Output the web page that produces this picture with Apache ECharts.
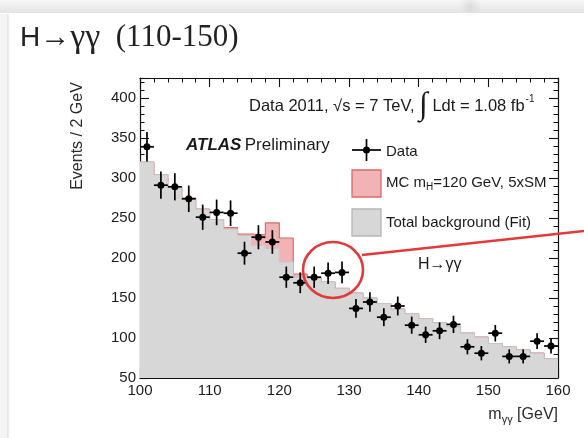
<!DOCTYPE html>
<html>
<head>
<meta charset="utf-8">
<script src="https://cdn.jsdelivr.net/npm/echarts@6/dist/echarts.min.js"></script>
<style>
html,body{margin:0;padding:0;background:#fff;}
#chart{width:584px;height:438px;}
</style>
</head>
<body>
<div id="chart"></div>
<script>
// Diphoton invariant mass, 2 GeV bins (bin centres in GeV)
const massCenters = [101,103,105,107,109,111,113,115,117,119,121,123,125,127,129,
                     131,133,135,137,139,141,143,145,147,149,151,153,155,157,159];
// Observed events per bin
const dataEvents = [339,291,289,274,251,257,256,206,226,220,176,169,176,181,182,
                    137,145,126,140,116,104,109,117,89,81,106,77,77,96,90];
// Fitted total background per bin
const backgroundFit = [320,304,289,275,261,248,236,228,216,212,195,176,175,170,162,
                       156,150,143,136,130,124,119,114,106,101,93,89,85,81,74];
// MC signal, m_H = 120 GeV, 5 x SM (stacked on the background)
const signalMC = [0,0,0,0,0,0,2,2,13,32,30,4,0,0,0,
                  0,0,0,0,0,0,0,0,0,0,0,0,0,0,0];
const binHalfWidth = 1;
const xTickStep = 10;
const yTickStep = 50;

const FONT = '"Liberation Sans", Arial, Helvetica, sans-serif';
const SERIF = '"Liberation Serif", "Times New Roman", serif';

// step outline points built from the bin edges
function stepPoints(values) {
  const pts = [];
  massCenters.forEach((c, i) => {
    pts.push([c - binHalfWidth, values[i]]);
    pts.push([c + binHalfWidth, values[i]]);
  });
  return pts;
}
const totalPrediction = backgroundFit.map((b, i) => b + signalMC[i]);
const dataWithErrors = massCenters.map((c, i) => [c, dataEvents[i], Math.sqrt(dataEvents[i])]);

const chart = echarts.init(document.getElementById('chart'), null, {renderer: 'canvas'});

function xAxisCfg(pos, showLabel) {
  return {
    type: 'value', position: pos, min: 100, max: 160, interval: xTickStep,
    axisLine: {show: true, onZero: false, lineStyle: {color: '#111', width: 1.2}},
    axisTick: {show: true, inside: true, length: 9, lineStyle: {color: '#111', width: 1.1}},
    minorTick: {show: true, splitNumber: 5, length: 4.5, lineStyle: {color: '#111', width: 1}},
    axisLabel: {show: showLabel, color: '#1a1a1a', fontSize: 15, fontFamily: FONT, margin: 5},
    splitLine: {show: false}, minorSplitLine: {show: false}
  };
}
function yAxisCfg(pos, showLabel) {
  return {
    type: 'value', position: pos, min: 50, max: 425, interval: yTickStep,
    axisLine: {show: true, onZero: false, lineStyle: {color: '#111', width: 1.2}},
    axisTick: {show: true, inside: true, length: 9, lineStyle: {color: '#111', width: 1.1}},
    minorTick: {show: true, splitNumber: 5, length: 4.5, lineStyle: {color: '#111', width: 1}},
    axisLabel: {show: showLabel, color: '#1a1a1a', fontSize: 15, fontFamily: FONT, margin: 4,
                showMaxLabel: false},
    splitLine: {show: false}, minorSplitLine: {show: false}
  };
}

const option = {
  animation: false,
  backgroundColor: '#ffffff',
  title: {
    left: 15, top: 16,
    text: '{h|H}{a|→}{g|γγ}{p|  (110-150)}',
    textStyle: {
      fontWeight: 'normal',
      rich: {
        h: {fontFamily: FONT, fontSize: 28, fontWeight: 'normal', color: '#222'},
        a: {fontFamily: SERIF, fontSize: 30, fontWeight: 'normal', color: '#222'},
        g: {fontFamily: SERIF, fontSize: 34, fontWeight: 'normal', color: '#222'},
        p: {fontFamily: SERIF, fontSize: 31, fontWeight: 'normal', color: '#222'}
      }
    }
  },
  grid: {left: 140, right: 26, top: 78, bottom: 60, containLabel: false},
  xAxis: [xAxisCfg('bottom', true), xAxisCfg('top', false)],
  yAxis: [yAxisCfg('left', true), yAxisCfg('right', false)],
  series: [
    {
      name: 'MC', type: 'line', data: stepPoints(totalPrediction),
      showSymbol: false, symbol: 'none',
      lineStyle: {color: '#d86b6b', width: 1.2},
      areaStyle: {color: '#f1b3b5', opacity: 1, origin: 'start'},
      z: 2
    },
    {
      name: 'Background', type: 'line', data: stepPoints(backgroundFit),
      showSymbol: false, symbol: 'none',
      lineStyle: {color: '#c8c8c8', width: 1},
      areaStyle: {color: '#d7d7d7', opacity: 1, origin: 'start'},
      z: 3
    },
    {
      name: 'Data', type: 'custom', data: dataWithErrors, z: 5,
      renderItem: function (params, api) {
        const x = api.value(0), y = api.value(1), e = api.value(2);
        const top = api.coord([x, y + e]);
        const bot = api.coord([x, y - e]);
        const l = api.coord([x - binHalfWidth, y]);
        const r = api.coord([x + binHalfWidth, y]);
        const c = api.coord([x, y]);
        const st = {stroke: '#000', lineWidth: 1.7};
        return {
          type: 'group',
          children: [
            {type: 'line', shape: {x1: top[0], y1: top[1], x2: bot[0], y2: bot[1]}, style: st},
            {type: 'line', shape: {x1: l[0], y1: l[1], x2: r[0], y2: r[1]}, style: st},
            {type: 'circle', shape: {cx: c[0], cy: c[1], r: 3.5}, style: {fill: '#000'}}
          ]
        };
      }
    }
  ],
  graphic: [
    // slide frame shading
    {type: 'rect', left: 0, top: 0, shape: {width: 584, height: 13}, z: 0,
     style: {fill: new echarts.graphic.LinearGradient(0, 0, 0, 1, [
       {offset: 0, color: '#f7f7f7'}, {offset: 1, color: '#e3e3e3'}])}},
    {type: 'ellipse', shape: {cx: 470, cy: 6, rx: 120, ry: 12}, z: 0,
     style: {fill: new echarts.graphic.RadialGradient(0.5, 0.5, 0.5, [
       {offset: 0, color: 'rgba(180,180,180,0.35)'}, {offset: 1, color: 'rgba(210,210,210,0)'}])}},
    {type: 'rect', shape: {x: 0, y: 13, width: 584, height: 1}, z: 1, style: {fill: '#ffffff'}},
    {type: 'rect', shape: {x: 0, y: 13, width: 8, height: 425}, z: 0, style: {fill: '#f4f4f4'}},
    {type: 'line', shape: {x1: 8, y1: 13, x2: 8, y2: 438}, z: 0, style: {stroke: '#dadada', lineWidth: 1}},

    // axis titles
    {type: 'text', x: 78, y: 136, rotation: Math.PI / 2, z: 10,
     style: {text: 'Events / 2 GeV', fontFamily: FONT, fontSize: 16, fill: '#2a2a2a',
             align: 'center', verticalAlign: 'middle'}},
    {type: 'text', x: 558, y: 415, z: 10,
     style: {text: '{m|m}{s|γγ}{m| [GeV]}', align: 'right', verticalAlign: 'middle',
             rich: {m: {fontFamily: FONT, fontSize: 16, fill: '#2a2a2a'},
                    s: {fontFamily: FONT, fontSize: 11, fill: '#2a2a2a', padding: [9, 0, 0, 0]}}}},

    // run information
    {type: 'text', x: 249, y: 106, z: 10,
     style: {text: '{t|Data 2011, √s = 7 TeV, }{i|∫}{t| Ldt = 1.08 fb}{u|-1}',
             verticalAlign: 'middle',
             rich: {t: {fontFamily: FONT, fontSize: 16.5, fill: '#1a1a1a'},
                    i: {fontFamily: SERIF, fontSize: 32, fill: '#1a1a1a'},
                    u: {fontFamily: FONT, fontSize: 10, fill: '#1a1a1a', padding: [0, 0, 13, 1]}}}},
    {type: 'text', x: 186, y: 145, z: 10,
     style: {text: '{b|ATLAS} {t|Preliminary}', verticalAlign: 'middle',
             rich: {b: {fontFamily: FONT, fontSize: 17, fontWeight: 'bold', fontStyle: 'italic', fill: '#1a1a1a'},
                    t: {fontFamily: FONT, fontSize: 17, fill: '#1a1a1a'}}}},

    // legend
    {type: 'line', shape: {x1: 352, y1: 150, x2: 381, y2: 150}, z: 10, style: {stroke: '#000', lineWidth: 1.7}},
    {type: 'line', shape: {x1: 366.5, y1: 139, x2: 366.5, y2: 161}, z: 10, style: {stroke: '#000', lineWidth: 1.7}},
    {type: 'circle', shape: {cx: 366.5, cy: 150, r: 3.5}, z: 10, style: {fill: '#000'}},
    {type: 'text', x: 386, y: 152, z: 10,
     style: {text: 'Data', fontFamily: FONT, fontSize: 15, fill: '#1a1a1a', verticalAlign: 'middle'}},
    {type: 'rect', shape: {x: 352, y: 170, width: 29, height: 27}, z: 10,
     style: {fill: '#f1b3b5', stroke: '#d86b6b', lineWidth: 1.3}},
    {type: 'text', x: 386, y: 183, z: 10,
     style: {text: '{t|MC m}{s|H}{t|=120 GeV, 5xSM}', verticalAlign: 'middle',
             rich: {t: {fontFamily: FONT, fontSize: 15, fill: '#1a1a1a'},
                    s: {fontFamily: FONT, fontSize: 10, fill: '#1a1a1a', padding: [8, 0, 0, 0]}}}},
    {type: 'rect', shape: {x: 352, y: 209, width: 29, height: 27}, z: 10,
     style: {fill: '#d7d7d7', stroke: '#b5b5b5', lineWidth: 1.3}},
    {type: 'text', x: 386, y: 223, z: 10,
     style: {text: 'Total background (Fit)', fontFamily: FONT, fontSize: 15, fill: '#1a1a1a', verticalAlign: 'middle'}},

    // highlighted excess
    {type: 'text', x: 418, y: 265, z: 10,
     style: {text: 'H→γγ', fontFamily: FONT, fontSize: 16, fill: '#1a1a1a', verticalAlign: 'middle'}},
    {type: 'ellipse', shape: {cx: 333, cy: 270, rx: 30, ry: 28}, z: 20,
     style: {fill: 'none', stroke: '#e23a3a', lineWidth: 2.6}},
    {type: 'line', shape: {x1: 362, y1: 255, x2: 584, y2: 231}, z: 20,
     style: {stroke: '#e23a3a', lineWidth: 2.6}}
  ]
};
chart.setOption(option);
</script>
</body>
</html>
